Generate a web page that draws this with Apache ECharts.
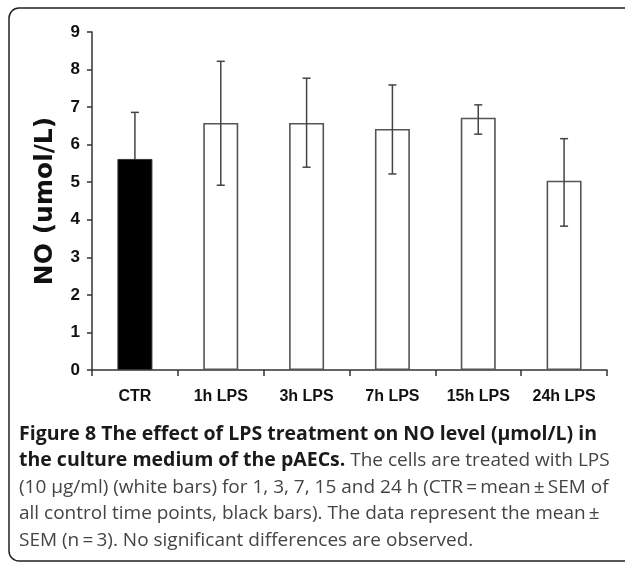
<!DOCTYPE html>
<html>
<head>
<meta charset="utf-8">
<script src="https://cdn.jsdelivr.net/npm/echarts@6/dist/echarts.min.js"></script>
<style>
html,body{margin:0;padding:0;background:#fff;}
#chart{width:625px;height:562px;}
</style>
</head>
<body>
<div id="chart"></div>
<script>
const categories = ['CTR', '1h LPS', '3h LPS', '7h LPS', '15h LPS', '24h LPS'];
const means = [5.62, 6.58, 6.58, 6.42, 6.72, 5.04];
const errLow = [4.38, 4.92, 5.40, 5.22, 6.28, 3.83];
const errHigh = [6.86, 8.22, 7.77, 7.59, 7.06, 6.16];
const controlFlags = [true, false, false, false, false, false];
const yTicks = { min: 0, max: 9, interval: 1 };

const blackData = means.map((v, i) => controlFlags[i] ? v : '-');
const whiteData = means.map((v, i) => controlFlags[i] ? '-' : v);
const errData = means.map((v, i) => [i, errLow[i], errHigh[i]]);

const chart = echarts.init(document.getElementById('chart'), null, { renderer: 'canvas' });

const narrow = '"Liberation Sans", Arial, sans-serif';

chart.setOption({
  backgroundColor: '#fff',
  animation: false,
  grid: { left: 92, right: 18, top: 32, bottom: 192 },
  title: {
    left: 14, top: 416,
    text: '{b|Figure 8 The effect of LPS treatment on NO level (\u03bcmol/L) in}\n' +
          '{b|the culture medium of the pAECs.}{n| The cells are treated with LPS}\n' +
          '{n|(10 \u03bcg/ml) (white bars) for 1, 3, 7, 15 and 24 h (CTR\u2009=\u2009mean\u2009\u00b1\u2009SEM of}\n' +
          '{n|all control time points, black bars). The data represent the mean\u2009\u00b1}\n' +
          '{n|SEM (n\u2009=\u20093). No significant differences are observed.}',
    textStyle: {
      rich: {
        b: { fontFamily: '"Open Sans", sans-serif', fontWeight: 'bold', fontSize: 19.5, color: '#1a1a1a', lineHeight: 26.5 },
        n: { fontFamily: '"Open Sans", sans-serif', fontWeight: 'normal', fontSize: 19, color: '#444', lineHeight: 26.5 }
      }
    }
  },
  graphic: [{
    type: 'rect',
    shape: { x: 9, y: 8, width: 640, height: 553, r: 10 },
    style: { fill: 'none', stroke: '#222', lineWidth: 1.5 },
    silent: true, z: 0
  }],
  xAxis: {
    type: 'category',
    data: categories,
    boundaryGap: true,
    axisLine: { lineStyle: { color: '#333', width: 1.5 } },
    axisTick: { show: true, inside: false, length: 6, lineStyle: { color: '#333', width: 1.5 } },
    axisLabel: { interval: 0, margin: 19, fontFamily: narrow, fontWeight: 'bold', fontSize: 16, color: '#111' }
  },
  yAxis: {
    type: 'value',
    min: yTicks.min, max: yTicks.max, interval: yTicks.interval,
    name: 'NO (umol/L)',
    nameLocation: 'middle',
    nameRotate: 90,
    nameGap: 34,
    nameTextStyle: { fontFamily: '"DejaVu Sans", sans-serif', fontWeight: 'bold', fontSize: 25, color: '#111' },
    axisLine: { show: true, lineStyle: { color: '#333', width: 1.5 } },
    axisTick: { show: true, inside: false, length: 5, lineStyle: { color: '#333', width: 1.5 } },
    splitLine: { show: false },
    axisLabel: { margin: 12, fontFamily: narrow, fontWeight: 'bold', fontSize: 17, color: '#111' }
  },
  series: [
    {
      type: 'bar', data: whiteData, barWidth: 35, barGap: '-100%', z: 1,
      itemStyle: { color: '#fff', borderColor: '#555', borderWidth: 1.6 }
    },
    {
      type: 'custom', z: 2,
      data: errData,
      renderItem: function (params, api) {
        const i = api.value(0);
        const lo = api.coord([i, api.value(1)]);
        const hi = api.coord([i, api.value(2)]);
        const x = lo[0];
        const hw = 4;
        const st = { stroke: '#444', lineWidth: 1.5 };
        return {
          type: 'group',
          children: [
            { type: 'line', shape: { x1: x, y1: lo[1], x2: x, y2: hi[1] }, style: st },
            { type: 'line', shape: { x1: x - hw, y1: lo[1], x2: x + hw, y2: lo[1] }, style: st },
            { type: 'line', shape: { x1: x - hw, y1: hi[1], x2: x + hw, y2: hi[1] }, style: st }
          ]
        };
      }
    },
    {
      type: 'bar', data: blackData, barWidth: 35, z: 3,
      itemStyle: { color: '#000', borderColor: '#333', borderWidth: 1 }
    }
  ]
});
</script>
</body>
</html>
